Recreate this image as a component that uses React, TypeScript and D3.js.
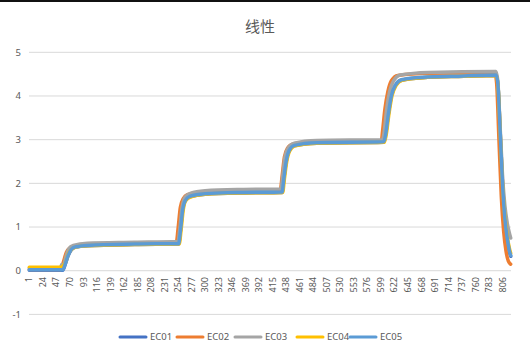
import React from 'react';
import * as d3 from 'd3';

// category count on the x axis (sample numbers)
const sampleCount = 820;
const categories: number[] = d3.range(1, sampleCount + 1);

const xTickLabels: number[] = [1, 24, 47, 70, 93, 116, 139, 162, 185, 208, 231, 254, 277, 300, 323, 346, 369, 392,
  415, 438, 461, 484, 507, 530, 553, 576, 599, 622, 645, 668, 691, 714, 737, 760, 783, 806];
const yTicks: number[] = [-1, 0, 1, 2, 3, 4, 5];

const seriesNames: string[] = ['EC01', 'EC02', 'EC03', 'EC04', 'EC05'];
const seriesColors: string[] = ['#4472C4', '#ED7D31', '#A5A5A5', '#FFC000', '#5B9BD5'];

// readings [sample, value]
const ec01: [number, number][] = [[1, 0.01], [58, 0.01], [62, 0.14], [67, 0.34], [72, 0.47], [80, 0.54], [100, 0.57],
  [180, 0.6], [255, 0.61], [258, 0.9], [262, 1.4], [266, 1.6], [274, 1.69], [300, 1.75], [360, 1.78], [431, 1.79],
  [434, 2.1], [438, 2.5], [443, 2.74], [452, 2.86], [490, 2.92], [604, 2.94], [607, 3.1], [612, 3.6], [617, 4.0],
  [624, 4.24], [634, 4.36], [670, 4.42], [740, 4.45], [795, 4.47], [798, 4.3], [802, 3.2], [806, 2.0], [810, 1.2],
  [814, 0.72], [818, 0.42], [820, 0.33]];
const ec02: [number, number][] = [[1, 0.03], [55, 0.03], [59, 0.2], [64, 0.42], [70, 0.52], [80, 0.57], [100, 0.6],
  [180, 0.62], [251, 0.64], [254, 0.95], [258, 1.45], [263, 1.65], [270, 1.74], [290, 1.79], [360, 1.82], [428, 1.84],
  [431, 2.15], [435, 2.6], [440, 2.8], [450, 2.9], [480, 2.95], [600, 2.98], [602, 3.2], [606, 3.7], [611, 4.1],
  [617, 4.35], [628, 4.47], [680, 4.52], [793, 4.53], [796, 4.3], [800, 3.0], [804, 1.7], [808, 0.9], [812, 0.45],
  [816, 0.22], [820, 0.15]];
const ec03: [number, number][] = [[1, 0.06], [54, 0.06], [56, 0.14], [59, 0.12], [63, 0.3], [68, 0.5], [76, 0.58],
  [100, 0.63], [180, 0.65], [254, 0.67], [257, 0.95], [261, 1.45], [266, 1.68], [275, 1.77], [300, 1.83], [360, 1.86],
  [429, 1.87], [432, 2.15], [436, 2.6], [442, 2.82], [452, 2.92], [490, 2.98], [602, 3.0], [605, 3.2], [609, 3.7],
  [614, 4.1], [621, 4.35], [632, 4.48], [680, 4.54], [795, 4.56], [798, 4.35], [802, 3.3], [806, 2.2], [810, 1.5],
  [814, 1.1], [818, 0.85], [820, 0.75]];
const ec04: [number, number][] = [[1, 0.08], [56, 0.08], [59, 0.12], [63, 0.2], [68, 0.4], [74, 0.5], [82, 0.55],
  [100, 0.57], [180, 0.6], [256, 0.61], [259, 0.9], [263, 1.4], [267, 1.6], [276, 1.69], [300, 1.75], [360, 1.78],
  [432, 1.79], [435, 2.1], [439, 2.5], [444, 2.74], [453, 2.86], [490, 2.92], [605, 2.94], [608, 3.1], [613, 3.6],
  [618, 4.0], [625, 4.24], [635, 4.36], [670, 4.42], [740, 4.45], [795, 4.47], [798, 4.3], [802, 3.2], [806, 2.0],
  [810, 1.25], [814, 0.8], [818, 0.5], [820, 0.4]];
const ec05: [number, number][] = [[1, 0.02], [58, 0.02], [62, 0.15], [67, 0.35], [72, 0.48], [80, 0.55], [100, 0.58],
  [180, 0.61], [255, 0.62], [258, 0.9], [262, 1.4], [266, 1.6], [274, 1.7], [300, 1.76], [360, 1.79], [431, 1.8],
  [434, 2.1], [438, 2.5], [443, 2.75], [452, 2.87], [490, 2.93], [604, 2.95], [607, 3.1], [612, 3.6], [617, 4.0],
  [624, 4.25], [634, 4.37], [670, 4.43], [740, 4.46], [795, 4.48], [798, 4.3], [802, 3.2], [806, 2.0], [810, 1.2],
  [814, 0.75], [818, 0.45], [820, 0.35]];
const seriesData = [ec01, ec02, ec03, ec04, ec05];

const W = 530;
const H = 359;
const textColor = '#595959';
const font = '"Noto Sans", "Noto Sans CJK SC", sans-serif';

const x = d3.scaleBand<number>().domain(categories).range([29, 511]);
const xc = (i: number) => (x(i) as number) + x.bandwidth() / 2;
const y = d3.scaleLinear().domain([-1, 5]).range([314.4, 52.3]);

const line = d3.line<[number, number]>()
  .x(d => xc(d[0]))
  .y(d => y(d[1]))
  .curve(d3.curveMonotoneX);

export default function App() {
  const legendX = [120, 177, 235, 297, 350];
  return (
    <svg width={W} height={H} style={{ position: 'absolute', left: 0, top: 0, background: '#fff' }} fontFamily={font}>
      <rect x={0} y={0} width={W} height={2} fill="#111" />
      <text x={260} y={32} textAnchor="middle" fontSize={15} fill={textColor}
        fontFamily='"Noto Sans CJK SC", sans-serif'>线性</text>
      {yTicks.map(t => (
        <g key={t}>
          <line x1={29} x2={511} y1={y(t)} y2={y(t)} stroke="#d9d9d9" strokeWidth={1} />
          <text x={21} y={y(t)} dy="0.35em" textAnchor="end" fontSize={9.5} fill={textColor}>{t}</text>
        </g>
      ))}
      {xTickLabels.map(t => (
        <text key={t} transform={`translate(${xc(t)},277) rotate(-90)`} textAnchor="end" dy="0.35em"
          fontSize={9} fill={textColor}>{t}</text>
      ))}
      {seriesData.map((d, i) => (
        <path key={seriesNames[i]} d={line(d) as string} fill="none" stroke={seriesColors[i]}
          strokeWidth={3.5} strokeLinejoin="round" strokeLinecap="round" />
      ))}
      {seriesNames.map((n, i) => (
        <g key={n}>
          <line x1={legendX[i]} x2={legendX[i] + 26} y1={337} y2={337} stroke={seriesColors[i]} strokeWidth={3}
            strokeLinecap="round" />
          <text x={legendX[i] + 30} y={337} dy="0.35em" fontSize={9.5} fill={textColor}>{n}</text>
        </g>
      ))}
    </svg>
  );
}
